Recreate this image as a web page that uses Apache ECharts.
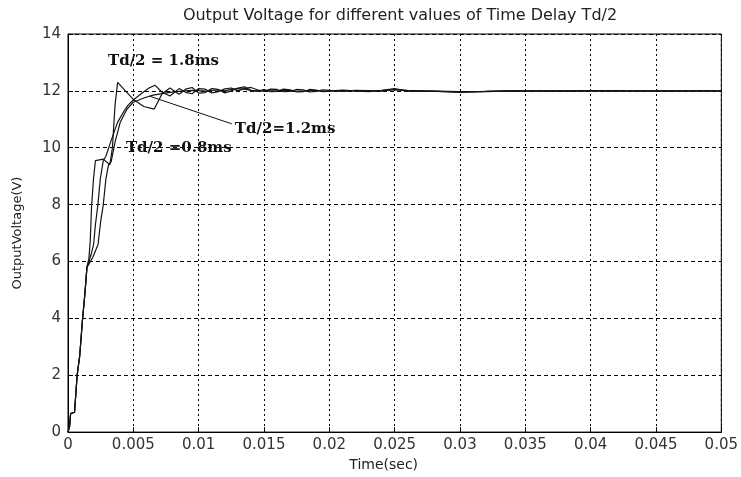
<!DOCTYPE html>
<html>
<head>
<meta charset="utf-8">
<script src="https://cdn.jsdelivr.net/npm/echarts@6/dist/echarts.min.js"></script>
<style>
  html, body { margin: 0; padding: 0; background: #fff; }
  #chart { width: 741px; height: 477px; }
</style>
</head>
<body>
<div id="chart"></div>
<script>
// shared initial rise (all three curves start together)
const riseT = [0, 0.00012, 0.0002, 0.0005, 0.0007, 0.0009, 0.0011, 0.0013, 0.00145];
const riseV = [0, 0.2, 0.65, 0.7, 2.0, 2.7, 3.9, 4.9, 5.8];

// curve A - fastest, big overshoot
const headAT = [0.0016, 0.0017, 0.0018, 0.00195, 0.0021, 0.0027, 0.0032, 0.0034, 0.0036, 0.0038, 0.0045, 0.005, 0.0058, 0.0066, 0.0072, 0.0078];
const headAV = [6.1, 6.7, 7.9, 8.9, 9.55, 9.6, 9.4, 10.0, 11.5, 12.3, 11.95, 11.7, 11.45, 11.36, 11.9, 12.1];

// curve B
const headBT = [0.0016, 0.0018, 0.00196, 0.0021, 0.00229, 0.00247, 0.0027, 0.0029, 0.0033, 0.0038, 0.0043, 0.0046, 0.005, 0.0056, 0.0062, 0.00665, 0.0072, 0.0078];
const headBV = [6.0, 6.3, 6.6, 7.3, 8.0, 8.9, 9.55, 9.7, 10.25, 10.9, 11.3, 11.5, 11.68, 11.9, 12.1, 12.2, 11.95, 11.82];

// curve C - slowest, smooth
const headCT = [0.0016, 0.0019, 0.0023, 0.0025, 0.0027, 0.0029, 0.0031, 0.0033, 0.0036, 0.004, 0.0045, 0.005, 0.0058, 0.0065, 0.0072, 0.0078];
const headCV = [5.9, 6.15, 6.6, 7.4, 8.0, 8.9, 9.4, 9.5, 10.2, 10.9, 11.35, 11.6, 11.75, 11.85, 11.9, 11.95];

// steady-state ripple, same time points for all curves
const tailT = [0.0085, 0.009, 0.0095, 0.010, 0.0105, 0.011, 0.0115, 0.012, 0.0125, 0.013, 0.0135, 0.014, 0.0145, 0.015, 0.0155, 0.016, 0.0165, 0.017, 0.0175, 0.018, 0.0185, 0.019, 0.0195, 0.020, 0.021, 0.022, 0.023, 0.024, 0.025, 0.026, 0.028, 0.030, 0.032, 0.034, 0.036, 0.038, 0.040, 0.042, 0.044, 0.046, 0.048, 0.050];
const tailAV = [11.88, 12.06, 12.12, 11.92, 11.94, 12.08, 12.05, 11.93, 12.0, 12.1, 12.14, 12.02, 11.98, 12.05, 11.97, 11.98, 12.06, 12.04, 11.96, 11.97, 12.05, 12.03, 11.97, 11.99, 12.03, 12.0, 11.97, 12.02, 12.08, 11.99, 11.98, 11.96, 11.97, 12.0, 12.0, 11.99, 12.0, 12.01, 11.99, 12.0, 12.0, 12.0];
const tailBV = [12.08, 11.95, 11.9, 12.08, 12.06, 11.93, 11.97, 12.07, 12.1, 12.0, 12.08, 12.12, 12.04, 11.98, 12.06, 12.05, 11.97, 11.98, 12.05, 12.04, 11.96, 11.98, 12.04, 12.02, 11.98, 12.02, 12.01, 11.99, 12.05, 12.02, 11.99, 11.95, 11.98, 12.0, 11.99, 12.0, 12.01, 12.0, 12.0, 11.99, 12.0, 12.0];
const tailCV = [11.98, 12.0, 12.02, 12.01, 11.99, 12.02, 12.03, 12.0, 12.05, 12.08, 12.06, 12.02, 12.0, 12.02, 12.0, 12.0, 12.02, 12.01, 11.99, 12.0, 12.02, 12.01, 11.99, 12.0, 12.01, 12.0, 11.99, 12.01, 12.04, 12.0, 11.99, 11.97, 11.98, 12.0, 12.0, 12.0, 12.0, 12.0, 12.0, 12.0, 12.0, 12.0];

// annotations: text, anchor time, anchor voltage (left edge / vertical middle)
const noteText = ["Td/2 = 1.8ms", "Td/2=1.2ms", "Td/2 =0.8ms"];
const noteT = [0.00306, 0.01277, 0.00443];
const noteV = [13.03, 10.67, 9.98];
// pointer line for Td/2=1.2ms
const pointerT = [0.00627, 0.01254];
const pointerV = [11.81, 10.84];

function pairs(ts, vs) {
  return ts.map((t, i) => [t, vs[i]]);
}
function curve(headT, headV, tailV) {
  return pairs(riseT, riseV).concat(pairs(headT, headV), pairs(tailT, tailV));
}

const lineStyle = { color: "#141414", width: 1.2 };
const sans = "DejaVu Sans";

const chart = echarts.init(document.getElementById("chart"));
chart.setOption({
  animation: false,
  backgroundColor: "#fff",
  title: {
    text: "Output Voltage for different values of Time Delay Td/2",
    left: 395,
    textAlign: "center",
    top: 3,
    textStyle: { fontFamily: sans, fontSize: 16, fontWeight: "normal", color: "#222" },
  },
  grid: {
    left: 68,
    right: 19,
    top: 34,
    bottom: 40,
    show: true,
    borderColor: "#000",
    borderWidth: 1,
  },
  xAxis: {
    type: "value",
    min: 0,
    max: 0.05,
    interval: 0.005,
    name: "Time(sec)",
    nameLocation: "middle",
    nameGap: 23,
    nameTextStyle: { fontFamily: sans, fontSize: 14, color: "#222", padding: [0, 22, 0, 0] },
    axisLine: { lineStyle: { color: "#000" } },
    axisTick: { inside: true, length: 5, lineStyle: { color: "#000" } },
    axisLabel: {
      fontFamily: sans,
      fontSize: 15,
      color: "#333",
      margin: 6,
      formatter: (v) => String(+v.toFixed(3)),
    },
    splitLine: { show: true, lineStyle: { color: "#000", type: [2, 3], width: 1 } },
  },
  yAxis: {
    type: "value",
    min: 0,
    max: 14,
    interval: 2,
    name: "OutputVoltage(V)",
    nameLocation: "middle",
    nameGap: 44,
    nameTextStyle: { fontFamily: sans, fontSize: 13, color: "#222" },
    axisLine: { show: true, lineStyle: { color: "#000" } },
    axisTick: { show: true, inside: true, length: 5, lineStyle: { color: "#000" } },
    axisLabel: { fontFamily: sans, fontSize: 15, color: "#333", margin: 7 },
    splitLine: { show: true, lineStyle: { color: "#000", type: [4, 3], width: 1 } },
  },
  series: [
    {
      type: "line",
      data: curve(headAT, headAV, tailAV),
      symbol: "none",
      lineStyle,
      markPoint: {
        symbol: "circle",
        symbolSize: 0,
        silent: true,
        label: {
          show: true,
          position: "right",
          distance: 0,
          fontFamily: "DejaVu Serif",
          fontWeight: "bold",
          fontSize: 15,
          color: "#111",
          formatter: (p) => p.name,
        },
        data: noteText.map((txt, i) => ({ name: txt, coord: [noteT[i], noteV[i]] })),
      },
    },
    {
      type: "line",
      data: curve(headBT, headBV, tailBV),
      symbol: "none",
      lineStyle,
      markLine: {
        symbol: "none",
        silent: true,
        label: { show: false },
        lineStyle: { color: "#111", width: 1, type: "solid" },
        data: [[{ coord: [pointerT[0], pointerV[0]] }, { coord: [pointerT[1], pointerV[1]] }]],
      },
    },
    {
      type: "line",
      data: curve(headCT, headCV, tailCV),
      symbol: "none",
      lineStyle,
    },
  ],
});
</script>
</body>
</html>
